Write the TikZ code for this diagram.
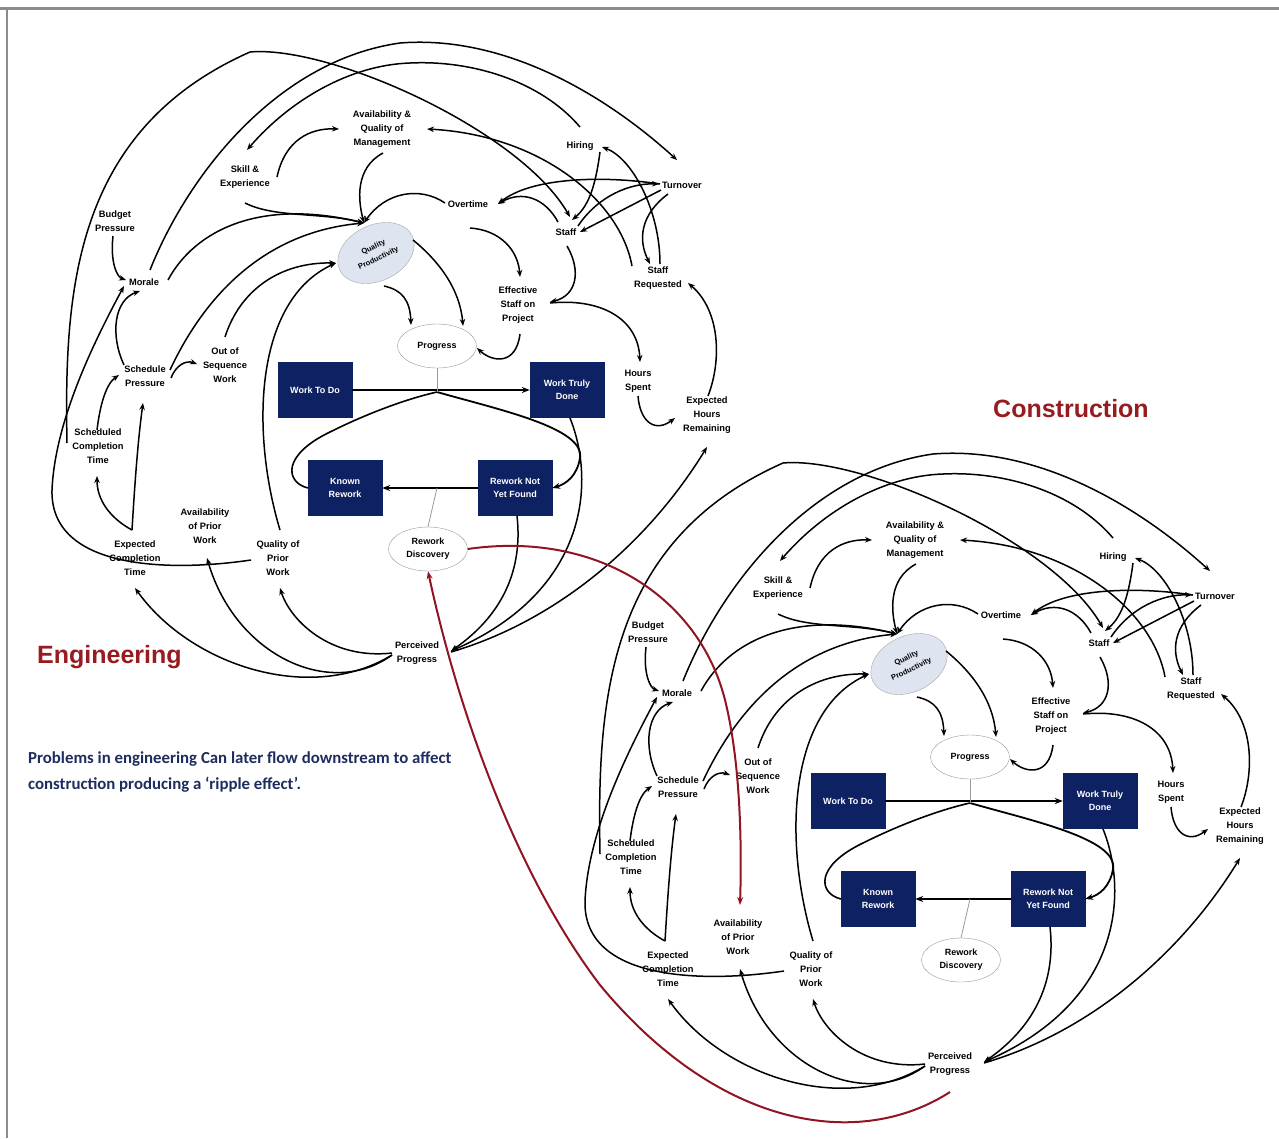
\documentclass[tikz,border=0pt]{standalone}
\usepackage{fontspec}
\setmainfont{Liberation Sans}
\newfontfamily\notefont{Carlito}
\usetikzlibrary{shapes.geometric,arrows.meta,calc}
\definecolor{navy}{RGB}{14,33,99}
\definecolor{titlered}{RGB}{150,28,32}
\definecolor{redline}{RGB}{145,20,35}
\definecolor{qpfill}{RGB}{222,228,240}
\definecolor{notecol}{RGB}{30,45,95}
\definecolor{framecol}{RGB}{140,140,140}
\tikzset{
 lab/.style={font=\bfseries\fontsize{9.3}{14}\selectfont, align=center, inner sep=1pt},
 box/.style={fill=navy, draw=navy, text=white, minimum width=74pt, minimum height=55pt, font=\bfseries\fontsize{9}{13}\selectfont, align=center, inner sep=1pt},
 oval/.style={ellipse, draw=black!40, fill=white, minimum width=79pt, minimum height=44pt, font=\bfseries\fontsize{9}{13}\selectfont, align=center, inner sep=0pt},
 qpnode/.style={ellipse, draw=black!35, fill=qpfill, minimum width=80pt, minimum height=56pt, rotate=25, align=center, inner sep=0pt, font=\bfseries\fontsize{7.5}{12}\selectfont},
 cl/.style={line width=1.5pt, -{Stealth[length=7pt,width=5.5pt]}},
 flow/.style={line width=1.8pt, -{Stealth[length=8pt,width=6pt]}},
 flowline/.style={line width=1.6pt},
 valve/.style={draw=black!40, line width=0.8pt},
 ripple/.style={draw=redline, line width=2pt, -{Stealth[length=8pt,width=6pt]}},
 title/.style={anchor=west, font=\bfseries\fontsize{25}{30}\selectfont, text=titlered, inner sep=0pt},
}
\newcommand{\reworkcycle}{%
 \node[lab] (mgmt) at (382,129) {Availability \&\\Quality of\\Management};
 \node[lab] (skill) at (245,177) {Skill \&\\Experience};
 \node[lab] (budget) at (115,221) {Budget\\Pressure};
 \node[lab] (morale) at (144,282) {Morale};
 \node[lab] (hiring) at (580,146) {Hiring};
 \node[lab] (turn) at (682,185) {Turnover};
 \node[lab] (over) at (468,204) {Overtime};
 \node[lab] (staff) at (566,232) {Staff};
 \node[lab] (sreq) at (658,278) {Staff\\Requested};
 \node[lab] (eff) at (518,305) {Effective\\Staff on\\Project};
 \node[lab] (hours) at (638,381) {Hours\\Spent};
 \node[lab] (ehr) at (707,415) {Expected\\Hours\\Remaining};
 \node[lab] (oos) at (225,365) {Out of\\Sequence\\Work};
 \node[lab] (sp) at (145,376) {Schedule\\Pressure};
 \node[lab] (sct) at (98,446) {Scheduled\\Completion\\Time};
 \node[lab] (apw) at (205,526) {Availability\\of Prior\\Work};
 \node[lab] (ect) at (135,558) {Expected\\Completion\\Time};
 \node[lab] (qpw) at (278,558) {Quality of\\Prior\\Work};
 \node[lab] (pp) at (417,653) {Perceived\\Progress};
 \node[qpnode] (qp) at (376,253) {Quality\\Productivity};
 \node[oval] (prog) at (437,346) {Progress};
 \node[oval] (rd) at (428,549) {Rework\\Discovery};
 \node[box] (wtd) at (315,390) {Work To Do};
 \node[box] (wdone) at (567,390) {Work Truly\\Done};
 \node[box] (kr) at (345,488) {Known\\Rework};
 \node[box] (rnyf) at (515,488) {Rework Not\\Yet Found};
 \coordinate (v1) at (437,392);
 \coordinate (v2) at (437,488);
 \coordinate (qptop) at ($(qp)+(-12,-30)$);
 \coordinate (qpleft) at ($(qp)+(-40,10)$);
 % stocks and flows
 \draw[flow] (wtd.east) -- (wdone.west);
 \draw[flow] (rnyf.west) -- (kr.east);
 \draw[flowline] (kr.west) .. controls (285,482) and (282,455) .. (330,432) .. controls (370,412) and (410,398) .. (v1);
 \draw[flow] (v1) .. controls (500,410) and (585,428) .. (580,458) .. controls (577,476) and (566,484) .. (rnyf.east);
 \draw[valve] (prog.south) -- (v1);
 \draw[valve] (v2) -- (rd.north);
 % causal links
 \draw[cl] ($(sct)+(-31,-3)$) .. controls (64,290) and (74,130) .. (250,52) .. controls (330,45) and (520,130) .. ($(staff)+(4,-15)$);
 \draw[cl] ($(morale)+(6,-12)$) .. controls (190,170) and (280,60) .. (400,43) .. controls (500,35) and (600,90) .. ($(turn)+(-5,-25)$);
 \draw[cl] ($(hiring)+(0,-19)$) .. controls (540,80) and (470,60) .. (410,63) .. controls (350,65) and (290,100) .. ($(skill)+(2,-27)$);
 \draw[cl] ($(sreq)+(-26,-12)$) .. controls (620,200) and (540,135) .. ($(mgmt)+(45,0)$);
 \draw[cl] ($(skill)+(32,0)$) .. controls (285,140) and (310,128) .. ($(mgmt)+(-43,0)$);
 \draw[cl] ($(mgmt)+(1,24)$) .. controls (355,168) and (358,200) .. (qptop);
 \draw[cl] ($(over)+(-23,-1)$) .. controls (420,186) and (385,192) .. (qptop);
 \draw[cl] ($(skill)+(0,26)$) .. controls (275,218) and (320,212) .. (qptop);
 \draw[cl] ($(morale)+(24,-2)$) .. controls (195,230) and (260,198) .. (qptop);
 \draw[cl] ($(sp)+(25,-6)$) .. controls (205,295) and (265,232) .. (qptop);
 \draw[cl] ($(oos)+(0,-28)$) .. controls (240,290) and (280,262) .. (qpleft);
 \draw[cl] ($(qpw)+(2,-28)$) .. controls (250,430) and (255,300) .. (qpleft);
 \draw[cl] ($(budget)+(-2,15)$) .. controls (110,262) and (117,277) .. ($(morale)+(-18,-2)$);
 \draw[cl] ($(sct)+(-1,-16)$) .. controls (100,405) and (106,384) .. ($(sp)+(-26,-1)$);
 \draw[cl] ($(sp)+(-21,-11)$) .. controls (110,335) and (114,300) .. ($(morale)+(-4,9)$);
 \draw[cl] ($(sp)+(26,2)$) .. controls (176,365) and (186,360) .. ($(oos)+(-28,-1)$);
 \draw[cl] ($(ect)+(-3,-28)$) .. controls (110,518) and (97,500) .. ($(sct)+(-1,30)$);
 \draw[cl] ($(ect)+(-3,-28)$) .. controls (135,480) and (138,440) .. ($(sp)+(-2,27)$);
 \draw[cl] ($(qpw)+(-27,2)$) .. controls (170,572) and (50,570) .. (52,490) .. controls (55,420) and (95,340) .. ($(morale)+(-20,4)$);
 \draw[cl] ($(pp)+(-25,2)$) .. controls (310,705) and (190,665) .. ($(ect)+(0,30)$);
 \draw[cl] ($(pp)+(-25,2)$) .. controls (330,700) and (235,655) .. ($(apw)+(2,32)$);
 \draw[cl] ($(pp)+(-25,0)$) .. controls (330,660) and (290,620) .. ($(qpw)+(2,30)$);
 \draw[cl] ($(wdone)+(3,28)$) .. controls (595,480) and (590,590) .. ($(pp)+(34,-2)$);
 \draw[cl] ($(rnyf)+(2,28)$) .. controls (522,560) and (510,610) .. ($(pp)+(34,-2)$);
 \draw[cl] ($(pp)+(34,-1)$) .. controls (560,620) and (650,540) .. ($(ehr)+(0,32)$);
 \draw[cl] ($(hours)+(0,15)$) .. controls (640,422) and (655,433) .. ($(ehr)+(-32,3)$);
 \draw[cl] ($(ehr)+(1,-19)$) .. controls (722,360) and (720,310) .. ($(sreq)+(30,5)$);
 \draw[cl] ($(eff)+(32,-2)$) .. controls (600,298) and (638,318) .. ($(hours)+(2,-19)$);
 \draw[cl] ($(staff)+(1,14)$) .. controls (582,272) and (576,296) .. ($(eff)+(32,-3)$);
 \draw[cl] ($(over)+(2,24)$) .. controls (500,230) and (518,250) .. ($(eff)+(2,-28)$);
 \draw[cl] ($(eff)+(2,29)$) .. controls (516,366) and (492,362) .. ($(prog)+(40,2)$);
 \draw[cl] ($(qp)+(8,33)$) .. controls (402,290) and (410,300) .. ($(prog)+(-26,-21)$);
 \draw[cl] ($(qp)+(37,-13)$) .. controls (440,262) and (460,290) .. ($(prog)+(26,-20)$);
 \draw[cl] ($(staff)+(-8,-10)$) .. controls (545,198) and (522,190) .. ($(over)+(30,0)$);
 \draw[cl] ($(turn)+(-22,-1)$) .. controls (600,175) and (530,178) .. ($(over)+(30,0)$);
 \draw[cl] ($(staff)+(12,-6)$) .. controls (598,196) and (630,183) .. ($(turn)+(-23,-1)$);
 \draw[cl] ($(turn)+(-21,5)$) -- ($(staff)+(14,0)$);
 \draw[cl] ($(hiring)+(20,6)$) .. controls (596,182) and (590,205) .. ($(staff)+(6,-12)$);
 \draw[cl] ($(sreq)+(2,-14)$) .. controls (660,210) and (632,158) .. ($(hiring)+(22,1)$);
 \draw[cl] ($(turn)+(-14,9)$) .. controls (640,215) and (638,240) .. ($(sreq)+(-8,-14)$);
}
\begin{document}
\begin{tikzpicture}[x=1pt,y=-1pt]
 \useasboundingbox (0,0) rectangle (1279,1138);
 \fill[white] (0,0) rectangle (1279,1138);
 \draw[framecol, line width=3pt] (0,8) -- (1279,8);
 \draw[framecol, line width=2pt] (7,8) -- (7,1138);
 \begin{scope}[name prefix=e-]
  \reworkcycle
 \end{scope}
 \begin{scope}[shift={(533,411)}, name prefix=c-]
  \reworkcycle
 \end{scope}
 \node[title] (engt) at (37,657) {Engineering};
 \node[title] (cont) at (993,409) {Construction};
 \node[anchor=west, align=left, font=\notefont\bfseries\fontsize{16.8}{26}\selectfont, text=notecol, inner sep=0pt] (note) at (28,772) {Problems in engineering Can later flow downstream to affect\\construction producing a ‘ripple effect’.};
 \draw[ripple] (e-rd.east) .. controls (600,530) and (700,600) .. (725,700) .. controls (740,760) and (742,840) .. ($(c-apw)+(2,-32)$);
 \draw[ripple] ($(c-pp)+(0,28)$) .. controls (860,1150) and (720,1130) .. (600,985) .. controls (520,880) and (460,720) .. (e-rd.south);
\end{tikzpicture}
\end{document}
